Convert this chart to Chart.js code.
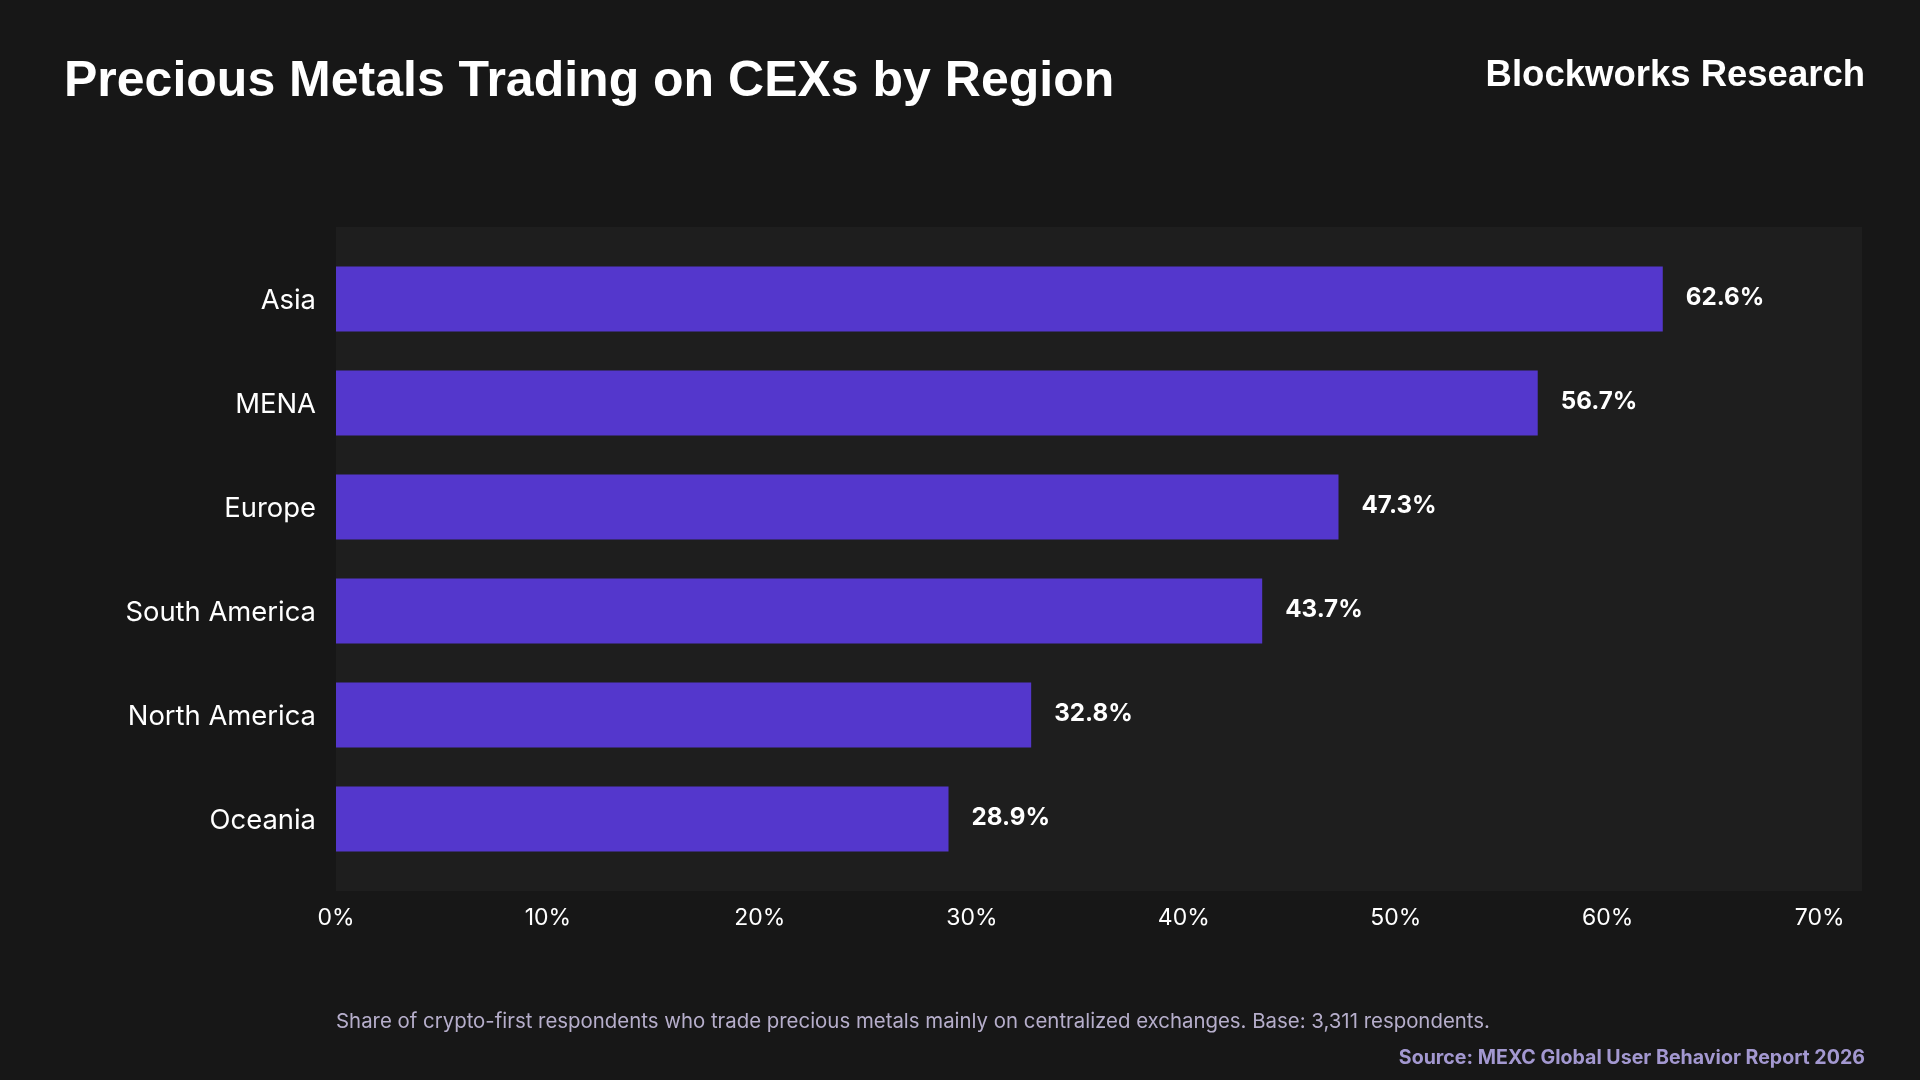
<!DOCTYPE html>
<html>
<head>
<meta charset="utf-8">
<script src="https://cdn.jsdelivr.net/npm/chart.js@4.4.1/dist/chart.umd.min.js"></script>
<style>
  html, body { margin: 0; padding: 0; background: #171717; }
  #wrap { position: relative; width: 1920px; height: 1080px; overflow: hidden; background: #171717; }
  #c { position: absolute; left: 0; top: 0; }
  .t { position: absolute; white-space: nowrap; line-height: 1; }
  #title { left: 64px; top: 50px; font: bold 50px "Liberation Sans", Arial, sans-serif; color: #ffffff; }
  #brand { right: 55px; top: 53px; font: bold 36.5px "Liberation Sans", Arial, sans-serif; color: #ffffff; }
  #note { left: 336px; top: 1008px; font: 400 20.4px Inter, "Noto Sans", sans-serif; color: #b6aecb; }
  #source { right: 55px; top: 1045px; font: 700 19.6px Inter, "Noto Sans", sans-serif; color: #a398d0; }
</style>
</head>
<body>
<div id="wrap">
  <canvas id="c" width="1920" height="1080"></canvas>
  <div class="t" id="title">Precious Metals Trading on CEXs by Region</div>
  <div class="t" id="brand">Blockworks Research</div>
  <div class="t" id="note">Share of crypto-first respondents who trade precious metals mainly on centralized exchanges. Base: 3,311 respondents.</div>
  <div class="t" id="source">Source: MEXC Global User Behavior Report 2026</div>
</div>
<script>
const regions = ["Asia", "MENA", "Europe", "South America", "North America", "Oceania"];
const shares = [62.6, 56.7, 47.3, 43.7, 32.8, 28.9];
const xTicks = [0, 10, 20, 30, 40, 50, 60, 70];
const xMax = 72;

const plotBg = {
  id: 'plotBg',
  beforeDraw(chart) {
    const a = chart.chartArea, ctx = chart.ctx;
    ctx.save();
    ctx.fillStyle = '#1e1e1e';
    ctx.fillRect(a.left, a.top - 20, a.right - a.left, a.bottom - a.top + 40);
    ctx.restore();
  }
};

const valueLabels = {
  id: 'valueLabels',
  afterDatasetsDraw(chart) {
    const ctx = chart.ctx;
    const meta = chart.getDatasetMeta(0);
    ctx.save();
    ctx.fillStyle = '#ffffff';
    ctx.font = '700 24.2px Inter, "Noto Sans", sans-serif';
    ctx.textAlign = 'left';
    ctx.textBaseline = 'middle';
    meta.data.forEach((bar, i) => {
      ctx.fillText(shares[i].toFixed(1) + '%', bar.x + 23, bar.y - 1);
    });
    ctx.restore();
  }
};

new Chart(document.getElementById('c'), {
  type: 'bar',
  data: {
    labels: regions,
    datasets: [{
      data: shares,
      backgroundColor: '#5437cc',
      borderWidth: 0,
      categoryPercentage: 1,
      barPercentage: 0.625
    }]
  },
  options: {
    indexAxis: 'y',
    responsive: false,
    animation: false,
    devicePixelRatio: 1,
    layout: { padding: { left: 0, right: 58, top: 247, bottom: 149 } },
    plugins: { legend: { display: false }, tooltip: { enabled: false } },
    scales: {
      x: {
        type: 'linear',
        min: 0,
        max: xMax,
        grid: { display: false, drawTicks: false },
        border: { display: false },
        afterBuildTicks(scale) { scale.ticks = xTicks.map(v => ({ value: v })); },
        afterFit(scale) { scale.height = 60; },
        ticks: {
          color: '#ffffff',
          padding: 33,
          font: { family: 'Inter, "Noto Sans", sans-serif', size: 23 },
          callback: v => v + '%',
          maxRotation: 0
        }
      },
      y: {
        grid: { display: false, drawTicks: false },
        border: { display: false },
        afterFit(scale) { scale.width = 336; },
        ticks: {
          color: '#ffffff',
          padding: 20,
          labelOffset: 2,
          font: { family: 'Inter, "Noto Sans", sans-serif', size: 27.4 }
        }
      }
    }
  },
  plugins: [plotBg, valueLabels]
});
</script>
</body>
</html>
